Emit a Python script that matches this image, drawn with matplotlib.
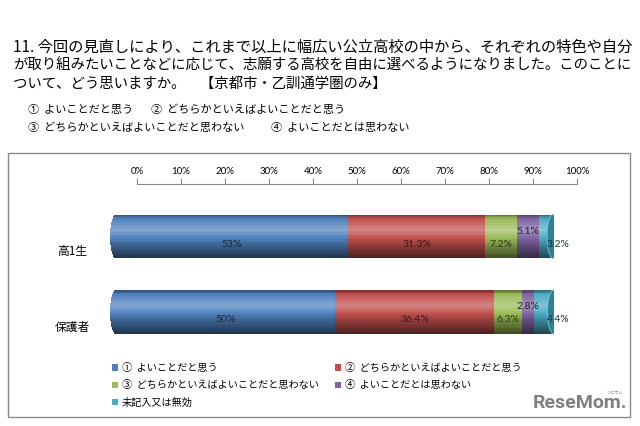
import numpy as np
import matplotlib
matplotlib.use("Agg")
import matplotlib.pyplot as plt
from matplotlib.patches import Rectangle, Ellipse, Patch
from matplotlib.colors import to_rgb

plt.rcParams["font.family"] = ["Noto Sans CJK JP", "DejaVu Sans"]

W, H = 640, 426

# --- data -------------------------------------------------------------------
title_lines = [
    "11. 今回の見直しにより、これまで以上に幅広い公立高校の中から、それぞれの特色や自分",
    "が取り組みたいことなどに応じて、志願する高校を自由に選べるようになりました。このことに",
    "ついて、どう思いますか。　【京都市・乙訓通学圏のみ】",
]
choice_lines = [
    ["①  よいことだと思う", "②  どちらかといえばよいことだと思う"],
    ["③  どちらかといえばよいことだと思わない", "④  よいことだとは思わない"],
]
groups = ["高1生", "保護者"]
series = ["①  よいことだと思う", "②  どちらかといえばよいことだと思う",
          "③  どちらかといえばよいことだと思わない", "④  よいことだとは思わない",
          "未記入又は無効"]
student = [53, 31.3, 7.2, 5.1, 3.2]
parent = [50, 36.4, 6.3, 2.8, 4.4]
ticks = [0, 10, 20, 30, 40, 50, 60, 70, 80, 90, 100]

COLOURS = ["#4F81BD", "#C0504D", "#9BBB59", "#8064A2", "#4BACC6"]
CAP = "#2F7F95"


def fx(x):
    return x / W


def fy(y):
    return 1 - y / H


def shaded(colour, s):
    c = np.array(to_rgb(colour))
    return tuple(c + (1 - c) * s) if s > 0 else tuple(c * (1 + s))


fig = plt.figure(figsize=(6.4, 4.26), dpi=100)

# header text
for i, line in enumerate(title_lines):
    fig.text(fx(13), fy(47 + 18.5 * i), line, fontsize=11 if i == 0 else 10.4,
             va="center")
for i, row in enumerate(choice_lines):
    fig.text(fx(28), fy(110 + 18 * i), row[0], fontsize=8, va="center")
    fig.text(fx(151 if i == 0 else 271), fy(110 + 18 * i), row[1], fontsize=8, va="center")

# chart frame
fig.add_artist(Rectangle((fx(8), fy(417)), 622 / W, 264 / H, transform=fig.transFigure,
                         fill=False, edgecolor="#8a8a8a", lw=1))

# percent scale (drawn offset like the 3-D original)
ax2 = fig.add_axes([fx(137), fy(184), 440 / W, 0.0001])
ax2.set_xlim(0, 100)
ax2.xaxis.tick_top()
ax2.set_xticks(ticks)
ax2.set_xticklabels([f"{t}%" for t in ticks], family="Lato", fontsize=7)
ax2.tick_params(axis="x", direction="out", length=4, color="#888888", pad=1.5)
ax2.set_yticks([])
for s in ["bottom", "left", "right"]:
    ax2.spines[s].set_visible(False)
ax2.spines["top"].set_color("#888888")
ax2.patch.set_visible(False)

# cylinders
rx = 6 / 4.38
ax = fig.add_axes([fx(110), fy(349.75), 444 / W, 151 / H])
ax.axis("off")
h = 0.58

# vertical shading profile of the cylinder (style, not data)
n_strip = 30
t = (np.arange(n_strip) + 0.5) / n_strip
shade = np.interp(t, [0, 0.1, 0.35, 0.7, 1], [-0.4, 0.0, 0.3, -0.25, -0.6])
dh = h / n_strip

for i, vals in enumerate([student, parent]):
    lefts = np.concatenate([[0], np.cumsum(vals)[:-1]])
    total = sum(vals)
    for k, s in enumerate(shade):
        yk = i - h / 2 + (k + 0.5) * dh
        ax.barh(yk, vals, left=lefts, height=dh * 1.05,
                color=[shaded(c, s) for c in COLOURS], linewidth=0, zorder=2)
        # rounded back edge on the left
        half = rx * np.sqrt(max(0.0, 1 - ((yk - i) / (h / 2)) ** 2))
        ax.barh(yk, half, left=-half, height=dh * 1.05,
                color=shaded(COLOURS[0], s), linewidth=0, zorder=2)

    # end face
    ax.add_patch(Ellipse((total, i), 2 * rx, h, facecolor=CAP, edgecolor="#7cc0d2",
                         lw=0.6, zorder=3))

    for j, (v, l, c) in enumerate(zip(vals, lefts, COLOURS)):
        xc, dy = l + v / 2, 0.1
        if j == 3:
            dy = -0.07
        if j == 4:
            xc = total + 1
        ax.text(xc, i + dy, f"{v:g}%", ha="center", va="center", fontsize=7.5,
                family="Lato", color=np.array(to_rgb(c)) * 0.3, zorder=5)
    ax.text(-10, i + 0.2, groups[i], ha="center", va="center", fontsize=8.5)

ax.set_xlim(-rx, 100)
ax.set_ylim(1.5, -0.5)

# legend, row-major like the original
handles = [Patch(facecolor=c, edgecolor="none") for c in COLOURS]
order = [0, 2, 4, 1, 3]
fig.legend([handles[k] for k in order], [series[k] for k in order], ncol=2,
           loc="upper left", bbox_to_anchor=(fx(112), fy(363)), frameon=False,
           fontsize=7.3, handlelength=0.6, handleheight=0.6, handletextpad=0.4,
           columnspacing=1.6, labelspacing=0.72, borderpad=0, borderaxespad=0)

# watermark
fig.text(fx(627), fy(403), "ReseMom.", ha="right", va="center", fontsize=14,
         fontweight="bold", color="#808080", family="Roboto")
fig.text(fx(614), fy(393), "リセマム", ha="center", va="center", fontsize=3,
         color="#808080")

fig.savefig("out.png", dpi=100)
